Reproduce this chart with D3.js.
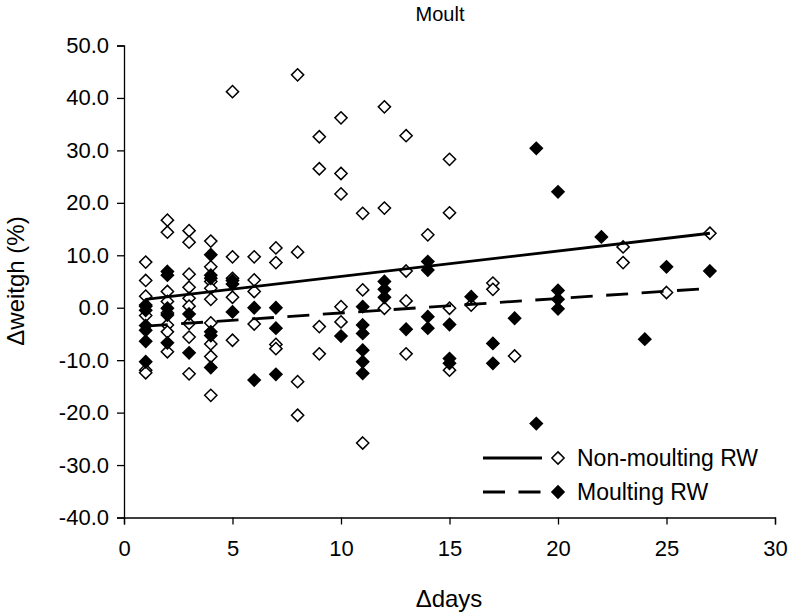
<!DOCTYPE html>
<html><head><meta charset="utf-8">
<script src="https://cdn.jsdelivr.net/npm/d3@7"></script>
<style>body{margin:0;background:#fff}svg{display:block}text{font-family:"Liberation Sans",Arial,sans-serif;fill:#000}</style>
</head><body><svg id="c" width="792" height="614"></svg>
<script>
const title = "Moult";
const xTitle = "\u0394days";
const yTitle = "\u0394weitgh (%)";
const xTicks = [0,5,10,15,20,25,30];
const yTicks = [-40,-30,-20,-10,0,10,20,30,40,50];
const seriesNames = ["Non-moulting RW","Moulting RW"];

const nonMoultDays = [1,1,1,1,1,1,1, 2,2,2,2,2,2,2,2, 3,3,3,3,3,3,3,3,3, 4,4,4,4,4,4,4,4,4, 5,5,5,5,5, 6,6,6,6, 7,7,7,7, 8,8,8,8, 9,9,9,9, 10,10,10,10,10, 11,11,11, 12,12,12, 13,13,13,13, 14, 15,15,15,15, 16, 17,17, 18, 23,23, 25, 27];
const nonMoultWeight = [8.7,5.2,2.2,0.5,-1.5,-11.9,-12.4, 16.7,14.4,3.1,1.2,-1.0,-3.3,-4.6,-8.4, 14.7,12.5,6.4,3.9,1.8,0.3,-3.0,-5.6,-12.6, 12.7,7.8,5.0,3.7,1.6,-2.9,-6.9,-9.3,-16.7, 41.2,9.7,5.6,2.0,-6.2, 9.7,5.3,3.1,-3.1, 11.4,8.6,-7.0,-7.8, 44.4,10.6,-14.1,-20.5, 32.6,26.5,-3.6,-8.8, 36.2,25.6,21.7,0.2,-2.7, 18.0,3.4,-25.8, 38.3,19.0,-0.1, 32.8,7.0,1.3,-8.8, 13.9, 28.3,18.1,-0.1,-11.9, 0.5, 4.7,3.5, -9.2, 11.6,8.6, 2.9, 14.2];

const moultDays = [1,1,1,1,1,1, 2,2,2,2,2, 3,3, 4,4,4,4,4,4, 5,5,5, 6,6, 7,7,7, 10, 11,11,11,11,11,11, 12,12,12, 13, 14,14,14,14, 15,15,15, 16, 17,17, 18, 19,19, 20,20,20,20, 22, 24, 25, 27];
const moultWeight = [0.3,-0.5,-3.4,-4.3,-6.4,-10.3, 6.9,6.2,-0.1,-1.4,-6.7, -1.2,-8.6, 10.1,6.2,5.6,-4.6,-5.3,-11.4, 5.2,4.5,-0.8, 0.0,-13.8, 0.0,-3.9,-12.7, -5.4, 0.2,-3.3,-4.9,-8.1,-10.3,-12.5, 5.0,3.5,2.0, -4.1, 8.8,7.2,-1.7,-3.9, -3.2,-9.7,-10.6, 2.1, -6.8,-10.6, -2.0, 30.4,-22.1, 22.1,3.3,1.6,-0.2, 13.5, -6.0, 7.8, 7.0];

// trend lines: [startDay, endDay, startValue, endValue]
const nonMoultTrend = [1, 27, 1.6, 14.2];
const moultTrend = [1, 27, -3.5, 3.7];

const svg = d3.select("#c");
const x = d3.scaleLinear().domain([0,30]).range([124,775]);
const y = d3.scaleLinear().domain([-40,50]).range([517.5,45.5]);

const yAxis = svg.append("g").attr("transform","translate(124,0)")
  .call(d3.axisLeft(y).tickValues(yTicks).tickFormat(d => d.toFixed(1)).tickSize(7).tickPadding(8));
const xAxis = svg.append("g").attr("transform","translate(0,517.5)")
  .call(d3.axisBottom(x).tickValues(xTicks).tickFormat(d => String(d)).tickSize(7).tickPadding(6));
[yAxis,xAxis].forEach(a=>{
  a.select(".domain").attr("stroke","#000").attr("stroke-width",1.3);
  a.selectAll(".tick line").attr("stroke","#000").attr("stroke-width",1.3);
  a.selectAll(".tick text").style("font-size","22px").attr("fill","#000");
});
xAxis.selectAll(".tick text").attr("dy","1.15em");

const diamond = d3.symbol().type(d3.symbolDiamond2).size(95);

function trend(t){ return [[t[0],t[2]],[t[1],t[3]]]; }
const line = d3.line().x(d=>x(d[0])).y(d=>y(d[1]));

const nm = nonMoultDays.map((d,i)=>[d,nonMoultWeight[i]]);
const m = moultDays.map((d,i)=>[d,moultWeight[i]]);

svg.append("g").selectAll("path").data(nm).join("path")
  .attr("d",diamond).attr("transform",d=>`translate(${x(d[0])},${y(d[1])})`)
  .attr("fill","#fff").attr("stroke","#000").attr("stroke-width",1.5);
svg.append("g").selectAll("path").data(m).join("path")
  .attr("d",diamond).attr("transform",d=>`translate(${x(d[0])},${y(d[1])})`)
  .attr("fill","#000").attr("stroke","#000").attr("stroke-width",1.5);

svg.append("path").attr("d",line(trend(nonMoultTrend))).attr("stroke","#000").attr("stroke-width",2.8).attr("fill","none");
svg.append("path").attr("d",line(trend(moultTrend))).attr("stroke","#000").attr("stroke-width",2.8).attr("fill","none").attr("stroke-dasharray","22,13.5");

// legend
const leg = svg.append("g");
seriesNames.forEach((name,i)=>{
  const ly = 458 + i*34;
  leg.append("line").attr("x1",483).attr("x2",542).attr("y1",ly).attr("y2",ly)
    .attr("stroke","#000").attr("stroke-width",2.8).attr("stroke-dasharray", i===1?"22,13.5":null);
  leg.append("path").attr("d",diamond).attr("transform",`translate(558,${ly})`)
    .attr("fill", i===0?"#fff":"#000").attr("stroke","#000").attr("stroke-width",1.5);
  leg.append("text").attr("x",577).attr("y",ly).attr("dy","0.35em").style("font-size","23px").text(name);
});

svg.append("text").attr("x",440).attr("y",21).attr("text-anchor","middle").style("font-size","20px").text(title);
svg.append("text").attr("x",449).attr("y",607).attr("text-anchor","middle").style("font-size","24px").text(xTitle);
svg.append("text").attr("transform","translate(24,281) rotate(-90)").attr("text-anchor","middle").style("font-size","24px").text(yTitle);
</script></body></html>
